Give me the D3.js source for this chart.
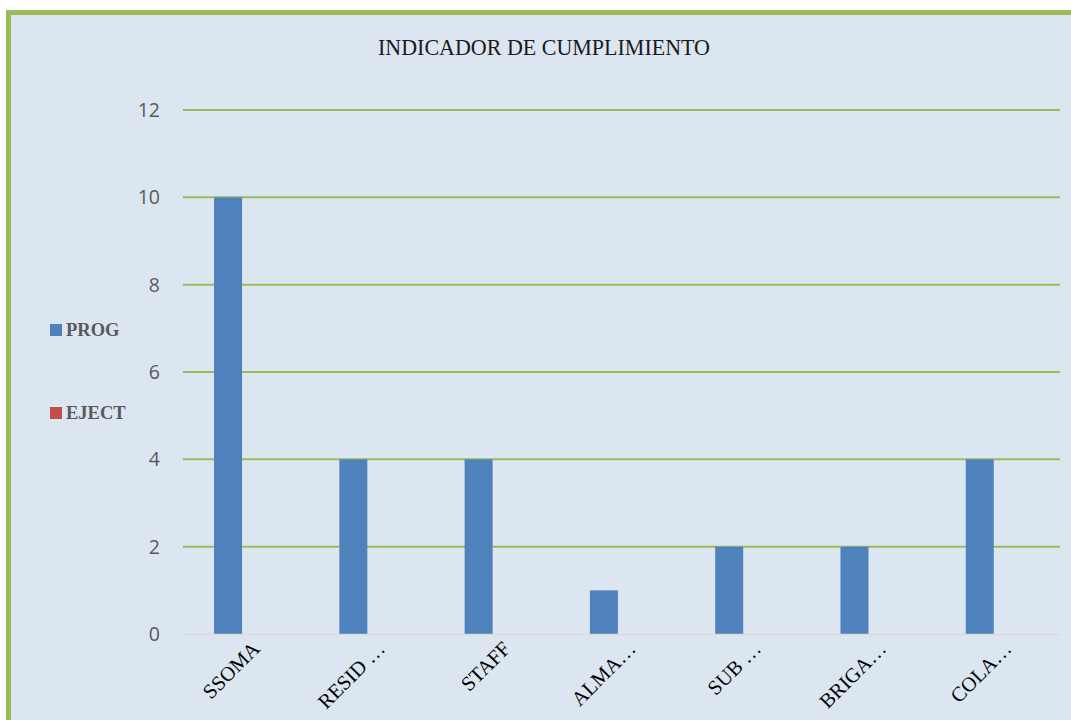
<!DOCTYPE html>
<html>
<head>
<meta charset="utf-8">
<script src="https://cdn.jsdelivr.net/npm/d3@7"></script>
<style>
  html, body { margin: 0; padding: 0; background: #ffffff; }
  svg { display: block; }
</style>
</head>
<body>
<svg id="chart" width="1071" height="720"></svg>
<script>
// Categories and series
const categories = ["SSOMA", "RESID …", "STAFF", "ALMA…", "SUB …", "BRIGA…", "COLA…"];
const seriesNames = ["PROG", "EJECT"];
const progValues = [10, 4, 4, 1, 2, 2, 4];
const ejectValues = [0, 0, 0, 0, 0, 0, 0];
const yTicks = [0, 2, 4, 6, 8, 10, 12];
const seriesColors = ["#4f81bd", "#c0504d"];

const svg = d3.select("#chart");

// Chart area with green frame
svg.append("rect").attr("x", 8.5).attr("y", 12.5).attr("width", 1080).attr("height", 720)
  .attr("fill", "#dce6f1").attr("stroke", "#9bbb59").attr("stroke-width", 5);

const plot = { left: 183, right: 1060, top: 110, bottom: 634 };

const y = d3.scaleLinear().domain([0, 12]).range([plot.bottom, plot.top]);
const x = d3.scaleBand().domain(categories).range([179.4, 1056.4]).paddingInner(0).paddingOuter(0);
const xInner = d3.scaleBand().domain(seriesNames).range([x.bandwidth() / 2 - 28, x.bandwidth() / 2 + 28]);

// Horizontal gridlines
svg.append("g").selectAll("line").data(yTicks.filter(d => d > 0)).join("line")
  .attr("x1", plot.left).attr("x2", plot.right)
  .attr("y1", d => y(d)).attr("y2", d => y(d))
  .attr("stroke", "#9bbb59").attr("stroke-width", 2);

// Y tick labels
svg.append("g").selectAll("text").data(yTicks).join("text")
  .attr("x", 160).attr("y", d => y(d)).attr("dy", "0.36em")
  .attr("text-anchor", "end")
  .attr("font-family", "Open Sans, sans-serif").attr("font-size", 19.5)
  .attr("fill", "#595959")
  .text(d => d);

// Bars
const rows = categories.map((c, i) => ({ cat: c, values: [progValues[i], ejectValues[i]] }));
const groups = svg.append("g").selectAll("g").data(rows).join("g")
  .attr("transform", d => `translate(${x(d.cat)},0)`);
groups.selectAll("rect").data(d => d.values.map((v, j) => ({ name: seriesNames[j], v, j })))
  .join("rect")
  .attr("x", d => xInner(d.name)).attr("width", xInner.bandwidth())
  .attr("y", d => y(d.v)).attr("height", d => y(0) - y(d.v))
  .attr("fill", d => seriesColors[d.j]);

// Category axis baseline
svg.append("line").attr("x1", plot.left).attr("x2", plot.right)
  .attr("y1", y(0) + 0.5).attr("y2", y(0) + 0.5)
  .attr("stroke", "#d9d9d9").attr("stroke-width", 1.5);

// Rotated category labels
svg.append("g").selectAll("text").data(categories).join("text")
  .attr("transform", d => `translate(${x(d) + x.bandwidth() / 2 + 19},${plot.bottom + 16}) rotate(-45)`)
  .attr("text-anchor", "end")
  .attr("font-family", "Liberation Serif, serif").attr("font-size", 20.5)
  .attr("fill", "#000000")
  .text(d => d);

// Title
svg.append("text").attr("x", 544).attr("y", 55).attr("text-anchor", "middle")
  .attr("font-family", "Liberation Serif, serif").attr("font-size", 23.5)
  .attr("fill", "#1a1a1a").attr("textLength", 332).attr("lengthAdjust", "spacingAndGlyphs")
  .text("INDICADOR DE CUMPLIMIENTO");

// Legend
const legend = svg.append("g").selectAll("g").data(seriesNames).join("g")
  .attr("transform", (d, i) => `translate(50,${330 + i * 83})`);
legend.append("rect").attr("x", 0).attr("y", -6).attr("width", 12).attr("height", 12)
  .attr("fill", (d, i) => seriesColors[i]);
legend.append("text").attr("x", 16).attr("y", 6)
  .attr("font-family", "Liberation Serif, serif").attr("font-weight", "bold").attr("font-size", 18.5)
  .attr("fill", "#595959")
  .text(d => d);
</script>
</body>
</html>
